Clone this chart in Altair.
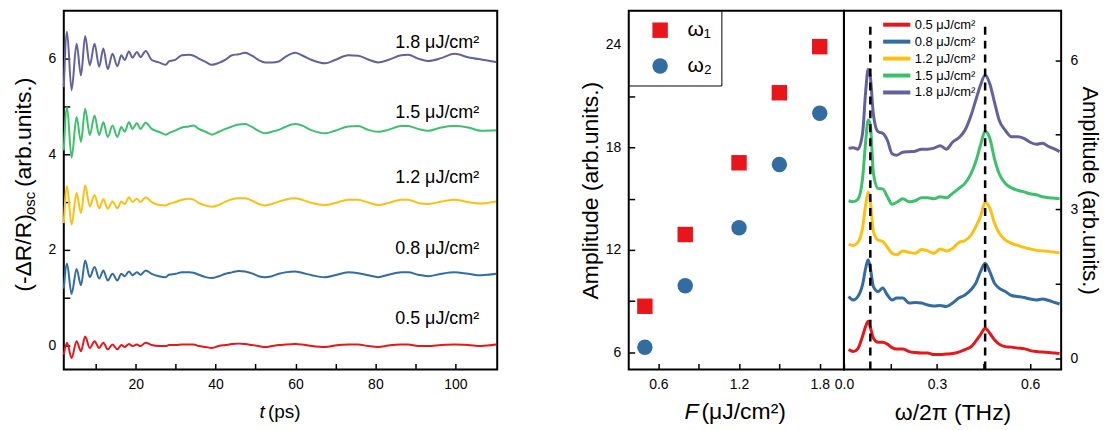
import altair as alt
import pandas as pd

FONT = "Liberation Sans"

# ---------------- data ----------------
FLUENCES = ["0.5 μJ/cm²", "0.8 μJ/cm²", "1.2 μJ/cm²", "1.5 μJ/cm²", "1.8 μJ/cm²"]
COLORS = ["#E8161B", "#336BA3", "#FDC010", "#3DC06C", "#60619D"]
OFFSETS = [0.0, 1.5, 3.0, 4.5, 6.0]

# left panel: oscillatory part of transient reflectivity (time in ps)
t_ps = [2.0, 2.8, 3.95, 5.2, 6.3, 7.35, 8.5, 9.7, 10.85, 11.9, 13.0, 14.2, 15.4, 16.4, 17.25,
        18.3, 19.2, 20.3, 21.2, 22.5,
        24.0, 25.8, 27.5, 28.3, 30.0, 31.6, 33.3, 34.5, 35.8, 37.5, 39.1, 40.8, 42.5, 44.1,
        45.8, 47.4, 49.1, 50.8, 52.4, 54.1, 55.8, 57.4, 59.9, 61.6, 64.1, 67.4, 69.9, 73.2,
        75.7, 78.2, 80.7, 83.2, 86.5, 88.2, 90.7, 93.2, 96.5, 99.8, 103.2, 106.5, 110.2]

osc_05 = [-0.19, 0.06, -0.26, 0.09, -0.12, 0.19, -0.05, 0.09, -0.05, 0.06, -0.08, 0.02, -0.08,
          0.01, -0.03, 0.03, -0.01, 0.02, -0.01, 0.06,
          0.01, -0.01, -0.01, 0.01, 0.01, 0.02, 0.02, 0.02, -0.01, -0.03, -0.05, -0.01, 0.01,
          0.03, 0.04, 0.03, 0.01, -0.01, -0.03, -0.01, 0.01, 0.02, 0.03, 0.02, -0.01, -0.03,
          0.0, 0.02, 0.02, -0.01, -0.03, 0.0, 0.02, 0.02, -0.01, -0.01, 0.01, 0.02, 0.01,
          -0.01, 0.02]
osc_08 = [-0.31, 0.21, -0.42, 0.10, -0.24, 0.28, -0.07, 0.14, -0.10, 0.07, -0.14, 0.0, -0.14,
          0.0, -0.05, 0.05, -0.03, 0.03, -0.02, 0.07,
          0.0, -0.05, -0.07, -0.02, 0.0, 0.03, 0.03, 0.02, -0.02, -0.07, -0.09, -0.05, 0.0,
          0.03, 0.06, 0.05, 0.01, -0.05, -0.07, -0.05, 0.0, 0.03, 0.05, 0.02, -0.03, -0.07,
          -0.03, 0.03, 0.01, -0.03, -0.07, -0.02, 0.03, 0.03, -0.02, -0.05, 0.0, 0.03, 0.0,
          -0.03, 0.0]
osc_12 = [-0.44, 0.33, -0.47, 0.19, -0.23, 0.35, -0.09, 0.15, -0.13, 0.06, -0.14, 0.01, -0.13,
          0.01, -0.04, 0.10, 0.0, 0.07, 0.0, 0.10,
          0.0, -0.06, -0.07, -0.04, 0.0, 0.05, 0.07, 0.05, -0.02, -0.07, -0.10, -0.06, 0.01,
          0.06, 0.08, 0.08, 0.03, -0.04, -0.07, -0.04, 0.01, 0.05, 0.08, 0.05, -0.02, -0.06,
          -0.02, 0.05, 0.05, -0.01, -0.06, -0.02, 0.05, 0.05, -0.02, -0.04, 0.01, 0.05, 0.0,
          -0.03, 0.01]
osc_15 = [-0.42, 0.49, -0.57, 0.28, -0.24, 0.45, -0.10, 0.31, -0.10, 0.17, -0.14, 0.10, -0.14,
          0.07, -0.03, 0.17, 0.03, 0.15, 0.03, 0.16,
          0.03, -0.03, -0.09, -0.06, 0.0, 0.06, 0.08, 0.10, 0.03, -0.03, -0.09, -0.03, 0.03,
          0.08, 0.12, 0.13, 0.07, -0.01, -0.06, -0.03, 0.01, 0.07, 0.13, 0.10, 0.0, -0.06,
          -0.01, 0.08, 0.09, 0.01, -0.03, 0.01, 0.09, 0.09, 0.03, -0.01, 0.06, 0.09, 0.06,
          -0.01, 0.0]
osc_18 = [-0.60, 0.56, -0.66, 0.31, -0.35, 0.47, -0.14, 0.31, -0.17, 0.21, -0.22, 0.10, -0.16,
          0.07, -0.03, 0.15, 0.02, 0.14, 0.03, 0.16,
          -0.03, -0.08, -0.13, -0.06, -0.02, 0.07, 0.08, 0.06, 0.0, -0.07, -0.13, -0.09, -0.02,
          0.07, 0.09, 0.12, 0.06, -0.03, -0.08, -0.08, -0.06, 0.03, 0.12, 0.07, -0.03, -0.10,
          -0.03, 0.07, 0.06, -0.02, -0.08, -0.03, 0.07, 0.08, 0.0, -0.05, 0.01, 0.10, 0.03,
          -0.02, -0.07]
OSC = [osc_05, osc_08, osc_12, osc_15, osc_18]

label_t = [106, 106, 106, 106, 106]
label_v = [0.56, 2.02, 3.50, 4.87, 6.33]

# middle panel: amplitudes vs fluence
fluence = [0.5, 0.8, 1.2, 1.5, 1.8]
amp_w1 = [8.7, 12.9, 17.1, 21.2, 23.9]
amp_w2 = [6.3, 9.9, 13.3, 17.0, 20.0]
MODES = ["ω₁", "ω₂"]

# right panel: Fourier spectra (offset)
spec_f = [0.015, 0.03, 0.045, 0.06, 0.07, 0.078, 0.085, 0.095, 0.11, 0.125, 0.14, 0.155, 0.17,
          0.19, 0.21, 0.23, 0.25, 0.27, 0.29, 0.31, 0.33, 0.35, 0.37, 0.39, 0.41, 0.425, 0.44,
          0.455, 0.47, 0.485, 0.50, 0.52, 0.54, 0.56, 0.58, 0.60, 0.62, 0.64, 0.66, 0.68, 0.695]
spec_05 = [0.17, 0.13, 0.19, 0.44, 0.64, 0.74, 0.62, 0.40, 0.32, 0.32, 0.28, 0.21, 0.18, 0.18,
           0.13, 0.11, 0.10, 0.10, 0.07, 0.07, 0.08, 0.09, 0.12, 0.17, 0.23, 0.34, 0.47, 0.60,
           0.50, 0.37, 0.28, 0.23, 0.22, 0.20, 0.19, 0.15, 0.13, 0.12, 0.11, 0.10, 0.09]
spec_08 = [1.24, 1.17, 1.24, 1.48, 1.81, 1.98, 1.81, 1.44, 1.34, 1.41, 1.27, 1.17, 1.21, 1.21,
           1.11, 1.12, 1.11, 1.07, 1.05, 1.06, 1.04, 1.11, 1.21, 1.27, 1.38, 1.51, 1.74, 1.91,
           1.74, 1.51, 1.41, 1.34, 1.26, 1.24, 1.22, 1.19, 1.17, 1.19, 1.16, 1.12, 1.09]
spec_12 = [2.29, 2.27, 2.33, 2.62, 3.09, 3.34, 3.15, 2.55, 2.38, 2.35, 2.23, 2.11, 2.08, 2.16,
           2.13, 2.11, 2.19, 2.16, 2.11, 2.20, 2.16, 2.21, 2.33, 2.37, 2.48, 2.65, 2.85, 3.14,
           3.02, 2.72, 2.52, 2.38, 2.31, 2.27, 2.23, 2.20, 2.17, 2.16, 2.15, 2.13, 2.12]
spec_15 = [3.17, 3.15, 3.20, 3.62, 4.36, 4.80, 4.70, 3.72, 3.42, 3.41, 3.25, 3.10, 3.14, 3.21,
           3.15, 3.17, 3.23, 3.23, 3.21, 3.25, 3.23, 3.32, 3.42, 3.52, 3.72, 3.96, 4.29, 4.57,
           4.43, 4.02, 3.72, 3.52, 3.43, 3.38, 3.35, 3.31, 3.29, 3.25, 3.23, 3.22, 3.21]
spec_18 = [4.23, 4.24, 4.21, 4.53, 5.37, 5.82, 5.67, 4.90, 4.56, 4.53, 4.39, 4.12, 4.09, 4.15,
           4.16, 4.17, 4.21, 4.21, 4.23, 4.28, 4.21, 4.35, 4.44, 4.59, 4.90, 5.20, 5.50, 5.70,
           5.53, 5.16, 4.80, 4.59, 4.46, 4.46, 4.43, 4.35, 4.31, 4.33, 4.26, 4.21, 4.16]
SPEC = [spec_05, spec_08, spec_12, spec_15, spec_18]

peak_f = [0.085, 0.455]
peak_lo = [-0.23, -0.23]
peak_hi = [6.7, 6.7]

# ---------------- tables ----------------
left_rows = []
for name, off, osc in zip(FLUENCES, OFFSETS, OSC):
    for t, d in zip(t_ps, osc):
        left_rows.append({"t": t, "v": off + d, "fluence": name})
left_df = pd.DataFrame(left_rows)
ann_df = pd.DataFrame({"t": label_t, "v": label_v, "label": FLUENCES})

mid_df = pd.DataFrame({
    "F": fluence + fluence,
    "amp": amp_w1 + amp_w2,
    "mode": [MODES[0]] * len(fluence) + [MODES[1]] * len(fluence),
})

spec_rows = []
for name, s in zip(FLUENCES, SPEC):
    for f, a in zip(spec_f, s):
        spec_rows.append({"f": f, "amp": a, "fluence": name})
spec_df = pd.DataFrame(spec_rows)
rule_df = pd.DataFrame({"f": peak_f, "lo": peak_lo, "hi": peak_hi})

one = pd.DataFrame({"k": [0]})

WL, WM, WR, H = 435, 216, 218, 360


def txt(s, x, y, size, **kw):
    return alt.Chart(one).mark_text(fontSize=size, font=FONT, color="black", **kw).encode(
        x=alt.value(x), y=alt.value(y), text=alt.value(s))


# ---------------- left panel ----------------
lx_scale = alt.Scale(domain=[2, 110.5], nice=False, zero=False)
ly_scale = alt.Scale(domain=[-0.5, 7.0], nice=False, zero=False)
lx_axis = alt.Axis(values=[10, 20, 30, 40, 50, 60, 70, 80, 90, 100],
                   labelExpr="datum.value % 20 === 0 ? datum.label : ''", title=None)
ly_axis = alt.Axis(values=[0, 1, 2, 3, 4, 5, 6],
                   labelExpr="datum.value % 2 === 0 ? datum.label : ''", title=None)

left_lines = alt.Chart(left_df).mark_line(strokeWidth=2, interpolate="monotone").encode(
    x=alt.X("t:Q", scale=lx_scale, axis=lx_axis),
    y=alt.Y("v:Q", scale=ly_scale, axis=ly_axis),
    color=alt.Color("fluence:N", scale=alt.Scale(domain=FLUENCES, range=COLORS), legend=None),
)
left_ann = alt.Chart(ann_df).mark_text(align="right", baseline="middle", fontSize=18,
                                       font=FONT, color="black").encode(
    x=alt.X("t:Q", scale=lx_scale, axis=lx_axis),
    y=alt.Y("v:Q", scale=ly_scale, axis=ly_axis),
    text="label:N")

left_titles = [
    txt("t", 199, 403, 19, fontStyle="italic", align="center", baseline="middle"),
    txt("(ps)", 205, 403, 19, align="left", baseline="middle"),
    txt("(-ΔR/R)", -40, 282, 23, angle=270, align="left", baseline="middle"),
    txt("osc", -34, 205, 15, angle=270, align="left", baseline="middle"),
    txt("(arb.units.)", -40, 177, 23, angle=270, align="left", baseline="middle"),
]
left = alt.layer(left_lines, left_ann, *left_titles).properties(width=WL, height=H)

# ---------------- middle panel ----------------
mid_legend = alt.Legend(title=None, orient="top-left", offset=0, padding=9,
                        strokeColor="black", fillColor="white", symbolSize=240,
                        symbolStrokeWidth=0, labelFontSize=21, labelFont=FONT,
                        rowPadding=14, symbolOffset=12, labelOffset=17)
mid_pts = alt.Chart(mid_df).mark_point(filled=True, size=240, opacity=1).encode(
    x=alt.X("F:Q", scale=alt.Scale(domain=[0.38, 1.98], nice=False, zero=False),
            axis=alt.Axis(values=[0.6, 0.9, 1.2, 1.5, 1.8], format=".1f",
                          labelExpr="round(datum.value * 100) % 60 === 0 ? datum.label : ''",
                          title=None)),
    y=alt.Y("amp:Q", scale=alt.Scale(domain=[5, 26], nice=False, zero=False),
            axis=alt.Axis(values=[6, 9, 12, 15, 18, 21, 24],
                          labelExpr="datum.value % 6 === 0 ? datum.label : ''",
                          title="Amplitude (arb.units.)", titleFontSize=23, titlePadding=3)),
    color=alt.Color("mode:N", scale=alt.Scale(domain=MODES, range=["#E8161B", "#336BA3"]),
                    legend=mid_legend),
    shape=alt.Shape("mode:N", scale=alt.Scale(domain=MODES, range=["square", "circle"]),
                    legend=mid_legend),
)
mid_titles = [
    txt("F", 63, 403, 23, fontStyle="italic", align="center", baseline="middle"),
    txt("(μJ/cm²)", 73, 403, 23, align="left", baseline="middle"),
]
mid = alt.layer(mid_pts, *mid_titles).properties(width=WM, height=H)

# ---------------- right panel ----------------
rx_scale = alt.Scale(domain=[0, 0.7], nice=False, zero=False)
ry_scale = alt.Scale(domain=[-0.23, 7.0], nice=False, zero=False)
rx_axis = alt.Axis(values=[0, 0.15, 0.3, 0.45, 0.6], format=".1f",
                   labelExpr="round(datum.value * 100) % 30 === 0 ? datum.label : ''",
                   title="ω/2π (THz)", titleFontSize=23, titlePadding=10)
ry_axis = alt.Axis(orient="right", values=[0, 1.5, 3, 4.5, 6],
                   labelExpr="datum.value % 3 === 0 ? datum.label : ''", labelPadding=9,
                   title="Amplitude (arb.units.)", titleAngle=90, titleFontSize=22,
                   titlePadding=0)

spec_lines = alt.Chart(spec_df).mark_line(strokeWidth=3, interpolate="monotone").encode(
    x=alt.X("f:Q", scale=rx_scale, axis=rx_axis),
    y=alt.Y("amp:Q", scale=ry_scale, axis=ry_axis),
    color=alt.Color("fluence:N", scale=alt.Scale(domain=FLUENCES, range=COLORS),
                    legend=alt.Legend(title=None, orient="none", legendX=44, legendY=5,
                                      padding=0, symbolType="M-1.95,0H1.95", symbolSize=196,
                                      symbolStrokeWidth=4, labelFontSize=13, labelFont=FONT,
                                      rowPadding=0, labelOffset=9)),
)
spec_rules = alt.Chart(rule_df).mark_rule(strokeDash=[8, 6], strokeWidth=2.5, color="black").encode(
    x=alt.X("f:Q", scale=rx_scale, axis=rx_axis),
    y=alt.Y("lo:Q", scale=ry_scale, axis=ry_axis),
    y2="hi:Q")
right = alt.layer(spec_lines, spec_rules).properties(width=WR, height=H)

inner = alt.hconcat(mid, right, spacing=0, bounds="flush").resolve_scale(
    color="independent", shape="independent", x="independent", y="independent")

chart = alt.hconcat(left, inner, spacing=132, bounds="flush").resolve_scale(
    color="independent", shape="independent", x="independent", y="independent"
).properties(
    padding={"left": 4, "top": 0, "right": 0, "bottom": 5}
).configure(font=FONT).configure_axis(
    tickSize=6, offset=-6, domain=False, grid=False, labelFontSize=14, labelPadding=8,
    labelFont=FONT, titleFont=FONT, labelColor="black", tickColor="black", tickWidth=1.5,
    titleColor="black", titleFontWeight="normal", labelFlush=False, labelOverlap=False
).configure_view(stroke="black", strokeWidth=2).configure_legend(labelColor="black")

chart.save("out.html", embed_options={"renderer": "svg", "actions": False})
